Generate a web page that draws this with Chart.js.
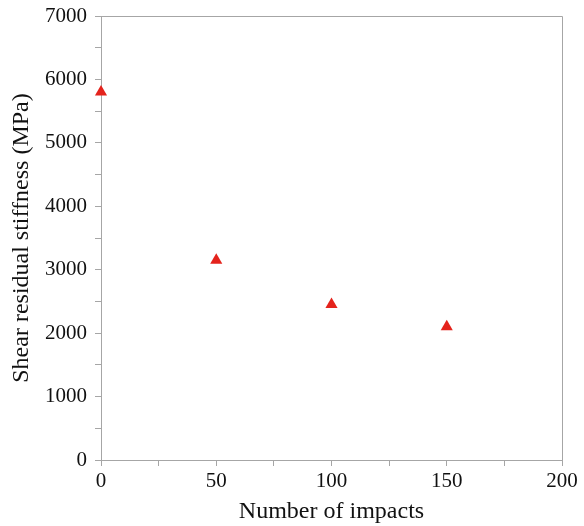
<!DOCTYPE html>
<html>
<head>
<meta charset="utf-8">
<script src="https://cdn.jsdelivr.net/npm/chart.js@4/dist/chart.umd.min.js"></script>
<style>
  html, body { margin: 0; padding: 0; background: #fff; }
  #wrap { width: 584px; height: 526px; }
</style>
</head>
<body>
<div id="wrap"><canvas id="stiffChart" width="584" height="526"></canvas></div>
<script>
const impacts = [0, 50, 100, 150];
const stiffness = [5800, 3150, 2450, 2100];
const xTicks = [0, 50, 100, 150, 200];
const yTicks = [0, 1000, 2000, 3000, 4000, 5000, 6000, 7000];

const axisGrey = '#a6a6a6';
const serif = "'Liberation Serif', 'DejaVu Serif', serif";

// frame on top and right of the plot area
const boxPlugin = {
    id: 'box',
    afterDraw(chart) {
        const a = chart.chartArea;
        const c = chart.ctx;
        c.save();
        c.strokeStyle = axisGrey;
        c.lineWidth = 1;
        c.beginPath();
        c.moveTo(a.left, a.top + 0.5);
        c.lineTo(a.right + 0.5, a.top + 0.5);
        c.lineTo(a.right + 0.5, a.bottom);
        c.stroke();
        c.restore();
    }
};

const ctx = document.getElementById('stiffChart').getContext('2d');
new Chart(ctx, {
    type: 'scatter',
    data: {
        datasets: [{
            data: impacts.map((x, i) => ({ x: x, y: stiffness[i] })),
            pointStyle: 'triangle',
            pointRadius: 7,
            pointHoverRadius: 7,
            backgroundColor: '#e4231c',
            borderColor: '#e4231c',
            borderWidth: 0,
            clip: false
        }]
    },
    options: {
        responsive: false,
        animation: false,
        layout: { padding: { top: 16, right: 22, left: 0, bottom: 0 } },
        plugins: { legend: { display: false }, tooltip: { enabled: false } },
        scales: {
            x: {
                type: 'linear',
                min: 0, max: 200,
                afterFit(s) { s.height = 66; },
                ticks: {
                    stepSize: 25,
                    color: '#111',
                    font: { family: serif, size: 21 },
                    padding: 3,
                    maxRotation: 0,
                    callback: v => xTicks.includes(v) ? v : ''
                },
                grid: { drawOnChartArea: false, drawTicks: true, tickLength: 6, color: axisGrey },
                border: { color: axisGrey, width: 1 },
                title: {
                    display: true,
                    text: 'Number of impacts',
                    color: '#111',
                    font: { family: serif, size: 24 },
                    padding: { top: 0, bottom: 0 }
                }
            },
            y: {
                min: 0, max: 7000,
                afterFit(s) {
                    s.width = 101;
                    // let the top label overhang the frame instead of pushing it down
                    s.paddingTop = 12;
                    s.paddingBottom = 12;
                },
                ticks: {
                    stepSize: 500,
                    color: '#111',
                    font: { family: serif, size: 21 },
                    padding: 8,
                    callback: v => yTicks.includes(v) ? v : ''
                },
                grid: { drawOnChartArea: false, drawTicks: true, tickLength: 6, color: axisGrey },
                border: { color: axisGrey, width: 1 },
                title: {
                    display: true,
                    text: 'Shear residual stiffness (MPa)',
                    color: '#111',
                    font: { family: serif, size: 24 },
                    padding: { top: 7, bottom: 0 }
                }
            }
        }
    },
    plugins: [boxPlugin]
});
</script>
</body>
</html>
